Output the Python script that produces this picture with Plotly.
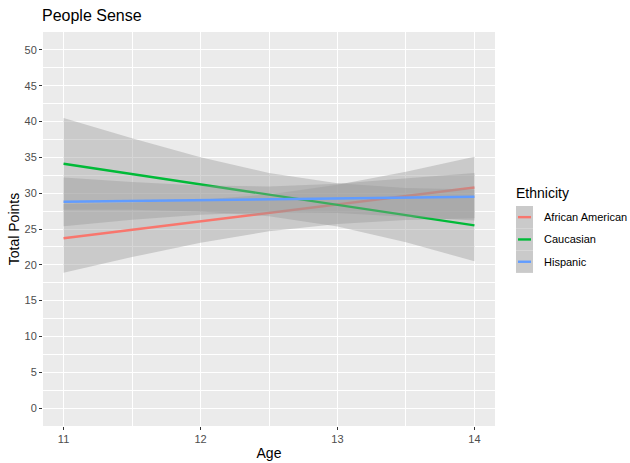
import plotly.graph_objects as go

# ---- data ----
ages = [11, 11.5, 12, 12.5, 13, 13.5, 14]
groups = ["African American", "Caucasian", "Hispanic"]
colors = ["#F8766D", "#00BA38", "#619CFF"]

fit_aa = [23.7, 24.88, 26.07, 27.25, 28.43, 29.62, 30.8]
upper_aa = [28.5, 28.68, 29.07, 29.83, 31.17, 33.0, 35.1]
lower_aa = [18.9, 21.08, 23.07, 24.67, 25.69, 26.24, 26.5]

fit_ca = [34.1, 32.67, 31.23, 29.8, 28.37, 26.93, 25.5]
upper_ca = [40.5, 37.67, 35.02, 32.81, 31.38, 30.72, 30.5]
lower_ca = [27.7, 27.67, 27.44, 26.79, 25.36, 23.14, 20.5]

fit_hi = [28.8, 28.92, 29.03, 29.15, 29.27, 29.38, 29.5]
upper_hi = [32.2, 31.55, 31.07, 30.95, 31.31, 32.01, 32.8]
lower_hi = [25.4, 26.29, 26.99, 27.35, 27.23, 26.75, 26.2]

x_ticks = [11, 12, 13, 14]
y_ticks = [0, 5, 10, 15, 20, 25, 30, 35, 40, 45, 50]

fits = [fit_aa, fit_ca, fit_hi]
uppers = [upper_aa, upper_ca, upper_hi]
lowers = [lower_aa, lower_ca, lower_hi]

FONT = "Liberation Sans, Arial, sans-serif"
BAND = "rgba(153,153,153,0.4)"

W, H = 630, 463
ML, MR, MT, MB = 43, 135, 32, 37
PW, PH = W - ML - MR, H - MT - MB

fig = go.Figure()
for name, col, f, up, lo in zip(groups, colors, fits, uppers, lowers):
    fig.add_trace(go.Scatter(
        x=ages + ages[::-1], y=up + lo[::-1], fill="toself",
        fillcolor=BAND, line=dict(width=0), mode="lines",
        hoverinfo="skip", showlegend=False))
    fig.add_trace(go.Scatter(
        x=ages, y=f, mode="lines", name=name,
        line=dict(color=col, width=2.4), showlegend=False))

# ---- manual ggplot-style legend (positions in page pixels -> paper) ----
def px(x):
    return (x - ML) / PW
def py(y):
    return 1 - (y - MT) / PH

shapes = []
annotations = []
key_x0, key_x1 = 516, 533
key_top = 206
key_h = 22.3
for i, (name, col) in enumerate(zip(groups, colors)):
    y0 = key_top + i * key_h
    y1 = y0 + key_h
    shapes.append(dict(type="rect", xref="paper", yref="paper",
                       x0=px(key_x0), x1=px(key_x1), y0=py(y1), y1=py(y0),
                       fillcolor="#CACACA", line=dict(width=0), layer="above"))
    yc = (y0 + y1) / 2
    shapes.append(dict(type="line", xref="paper", yref="paper",
                       x0=px(key_x0 + 2), x1=px(key_x1 - 2), y0=py(yc), y1=py(yc),
                       line=dict(color=col, width=2.4), layer="above"))
    annotations.append(dict(text=name, xref="paper", yref="paper",
                            x=px(542), y=py(yc), xanchor="left", yanchor="middle",
                            showarrow=False, font=dict(family=FONT, size=11, color="#000000")))
annotations.append(dict(text="Ethnicity", xref="paper", yref="paper",
                        x=px(514), y=py(193), xanchor="left", yanchor="middle",
                        showarrow=False, font=dict(family=FONT, size=14, color="#000000")))

fig.update_layout(
    width=W, height=H,
    margin=dict(l=ML, r=MR, t=MT, b=MB, pad=0, autoexpand=False),
    paper_bgcolor="white", plot_bgcolor="#EBEBEB",
    title=dict(text="People Sense", x=42 / W, xanchor="left", y=1 - 15 / H, yanchor="middle",
               font=dict(family=FONT, size=16, color="#000000")),
    font=dict(family=FONT),
    shapes=shapes, annotations=annotations,
    showlegend=False,
)
fig.update_xaxes(
    range=[10.85, 14.15], tickvals=x_ticks, ticktext=[str(v) for v in x_ticks],
    showgrid=True, gridcolor="white", gridwidth=1.1, zeroline=False,
    minor=dict(dtick=0.5, tick0=10.5, showgrid=True, gridcolor="white", gridwidth=0.5),
    ticks="outside", ticklen=3, tickcolor="#333333", tickwidth=1,
    tickfont=dict(family=FONT, size=11, color="#4D4D4D"),
    title=dict(text="Age", font=dict(family=FONT, size=14, color="#000000"), standoff=3),
    showline=False, automargin=False,
)
fig.update_yaxes(
    range=[-2.5, 52.5], tickvals=y_ticks, ticktext=[str(v) for v in y_ticks],
    showgrid=True, gridcolor="white", gridwidth=1.1, zeroline=False,
    minor=dict(dtick=2.5, tick0=0, showgrid=True, gridcolor="white", gridwidth=0.5),
    ticks="outside", ticklen=3, tickcolor="#333333", tickwidth=1,
    tickfont=dict(family=FONT, size=11, color="#4D4D4D"),
    title=dict(text="Total Points", font=dict(family=FONT, size=14, color="#000000"), standoff=1),
    showline=False, automargin=False,
)

fig.write_html("out.html", config={"displayModeBar": False},
               post_script="document.body.style.margin='0';document.body.style.padding='0';")
